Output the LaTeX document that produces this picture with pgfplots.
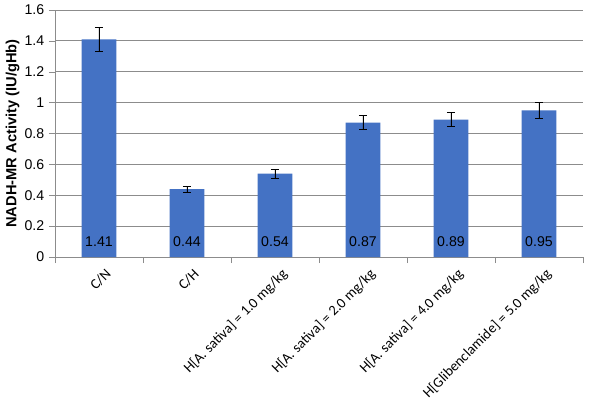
\documentclass[border=0pt]{standalone}
\usepackage{pgfplots}
\pgfplotsset{compat=1.18}
\usepackage{fontspec}
\setmainfont{Liberation Sans}
\newfontfamily\calib{Carlito}
\definecolor{barblue}{RGB}{68,114,196}
\definecolor{gridgray}{RGB}{140,140,140}
\begin{document}
\begin{tikzpicture}[x=1pt,y=1pt]
\useasboundingbox (-41.25,-107.25) rectangle (408.75,192.75);
\begin{axis}[
  at={(0,0)}, anchor=south west,
  scale only axis, width=396pt, height=185.25pt,
  xmin=-0.5, xmax=5.5, ymin=0, ymax=1.6,
  ytick={0,0.2,...,1.6},
  yticklabels={0,0.2,0.4,0.6,0.8,1,1.2,1.4,1.6},
  xtick={0,...,5},
  xticklabels={C/N, C/H, {H[A. sativa] = 1.0 mg/kg}, {H[A. sativa] = 2.0 mg/kg}, {H[A. sativa] = 4.0 mg/kg}, {H[Glibenclamide] = 5.0 mg/kg}},
  minor xtick={-0.5,0.5,...,5.5},
  major x tick style={draw=none},
  minor x tick style={gridgray},
  y tick style={gridgray},
  tick align=outside,
  major tick length=4.5pt, minor tick length=4.5pt,
  axis x line*=bottom, axis y line*=left,
  axis line style={gridgray, -},
  ymajorgrids, grid style={gridgray, line width=0.6pt},
  xticklabel style={font=\calib\fontsize{10.8}{13}\selectfont, rotate=45, anchor=north east, xshift=4pt, yshift=-2pt},
  yticklabel style={font=\fontsize{10.6}{12}\selectfont},
  ylabel={\textbf{NADH-MR Activity (IU/gHb)}},
  ylabel style={font=\fontsize{11}{13}\selectfont, yshift=-3pt},
  /pgf/number format/assume math mode=true,
  clip=false,
]
\addplot[ybar, bar width=26pt, fill=barblue, draw=none,
  error bars/.cd, y dir=both, y explicit,
  error bar style={black, line width=0.5pt},
  error mark options={black, rotate=90, mark size=3pt, line width=0.5pt}]
  coordinates {
  (0,1.41) +- (0,0.075)
  (1,0.44) +- (0,0.02)
  (2,0.54) +- (0,0.03)
  (3,0.87) +- (0,0.045)
  (4,0.89) +- (0,0.045)
  (5,0.95) +- (0,0.05)
  };
\addplot[draw=none, mark=none, nodes near coords, point meta=explicit symbolic,
  every node near coord/.append style={anchor=center, font=\fontsize{10.6}{12}\selectfont, black}]
  coordinates {
  (0,0.1) [1.41]
  (1,0.1) [0.44]
  (2,0.1) [0.54]
  (3,0.1) [0.87]
  (4,0.1) [0.89]
  (5,0.1) [0.95]
  };
\end{axis}
\end{tikzpicture}
\end{document}
